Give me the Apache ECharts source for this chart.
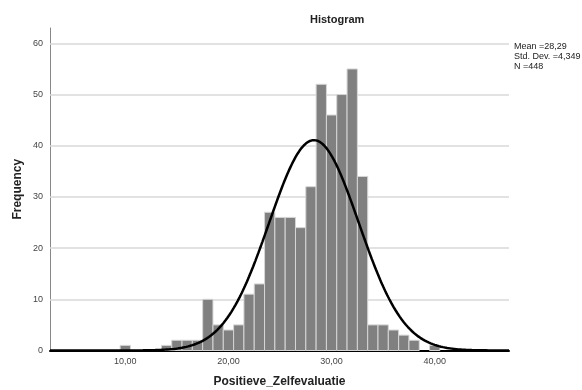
<!DOCTYPE html>
<html>
<head>
<meta charset="utf-8">
<script src="https://cdn.jsdelivr.net/npm/echarts@6/dist/echarts.min.js"></script>
<style>html,body{margin:0;padding:0;background:#fff}#c{width:582px;height:390px}</style>
</head>
<body>
<div id="c"></div>
<script>
// Bin centers (width 1) and frequencies
var binCenters = [10, 14, 15, 16, 17, 18, 19, 20, 21, 22, 23, 24, 25, 26, 27, 28, 29, 30, 31, 32, 33, 34, 35, 36, 37, 38, 40];
var frequencies = [1, 1, 2, 2, 2, 10, 5, 4, 5, 11, 13, 27, 26, 26, 24, 32, 52, 46, 50, 55, 34, 5, 5, 4, 3, 2, 1];
var xTicks = [10, 20, 30, 40];
var yTicks = [0, 10, 20, 30, 40, 50, 60];
var statMean = 28.29;
var statSD = 4.349;
var statN = 448;
var binWidth = 1;
var xMin = 2.7, xMax = 47.2, yMax = 63;

// Normal curve defined by the reported mean, SD and N
var curve = [];
for (var i = 0; i <= 445; i++) {
  var x = xMin + i * (xMax - xMin) / 445;
  var z = (x - statMean) / statSD;
  curve.push([x, statN * binWidth * Math.exp(-0.5 * z * z) / (statSD * Math.sqrt(2 * Math.PI))]);
}

function fmtComma(v, d) { return v.toFixed(d).replace('.', ','); }

var barData = binCenters.map(function (c, i) { return [c, frequencies[i]]; });

var chart = echarts.init(document.getElementById('c'), null, {renderer: 'canvas'});
chart.setOption({
  animation: false,
  textStyle: {fontFamily: 'Liberation Sans, Arial, sans-serif'},
  title: {
    text: 'Histogram', left: 305, top: 9,
    textStyle: {fontSize: 11, fontWeight: 'bold', color: '#222', fontFamily: 'Liberation Sans, Arial, sans-serif'}
  },
  graphic: [{
    type: 'text', left: 514, top: 42,
    style: {
      text: 'Mean =' + fmtComma(statMean, 2) + '\nStd. Dev. =' + fmtComma(statSD, 3) + '\nN =' + statN,
      font: '9px Liberation Sans, Arial, sans-serif', fill: '#222', lineHeight: 10
    }
  }],
  grid: {left: 50, right: 73, top: 28, bottom: 39.5, containLabel: false, outerBoundsMode: 'none'},
  xAxis: {
    type: 'value', min: xMin, max: xMax,
    name: 'Positieve_Zelfevaluatie', nameLocation: 'middle', nameGap: 25, nameMoveOverlap: false,
    nameTextStyle: {fontSize: 12, fontWeight: 'bold', color: '#222'},
    axisLine: {show: true, onZero: false, lineStyle: {color: '#000', width: 2}},
    axisTick: {show: false},
    splitLine: {show: false},
    axisLabel: {customValues: xTicks, formatter: function (v) { return fmtComma(v, 2); }, fontSize: 9, color: '#444', margin: 7}
  },
  yAxis: {
    type: 'value', min: 0, max: yMax,
    name: 'Frequency', nameLocation: 'middle', nameGap: 26, nameRotate: 90, nameMoveOverlap: false,
    nameTextStyle: {fontSize: 12, fontWeight: 'bold', color: '#222'},
    axisLine: {show: true, lineStyle: {color: '#888', width: 1}},
    axisTick: {show: false},
    splitLine: {show: false},
    axisLabel: {customValues: yTicks, fontSize: 9, color: '#444', margin: 7}
  },
  series: [
    {
      type: 'line', data: [], silent: true, z: 1,
      markLine: {
        silent: true, symbol: 'none', label: {show: false}, animation: false, z: 1,
        lineStyle: {color: '#d9d9d9', width: 1.5, type: 'solid'},
        data: yTicks.filter(function (t) { return t > 0; }).map(function (t) { return {yAxis: t}; })
      }
    },
    {
      type: 'custom', z: 3, data: barData,
      renderItem: function (params, api) {
        var c = api.value(0), f = api.value(1);
        var p0 = api.coord([c - binWidth / 2, f]);
        var p1 = api.coord([c + binWidth / 2, 0]);
        return {
          type: 'rect',
          shape: {x: p0[0], y: p0[1], width: p1[0] - p0[0], height: p1[1] - p0[1]},
          style: {fill: '#808080', stroke: '#d6d6d6', lineWidth: 1}
        };
      }
    },
    {
      type: 'line', z: 4, data: curve, showSymbol: false, smooth: false, silent: true,
      lineStyle: {color: '#000', width: 2.5}
    }
  ]
});
</script>
</body>
</html>
